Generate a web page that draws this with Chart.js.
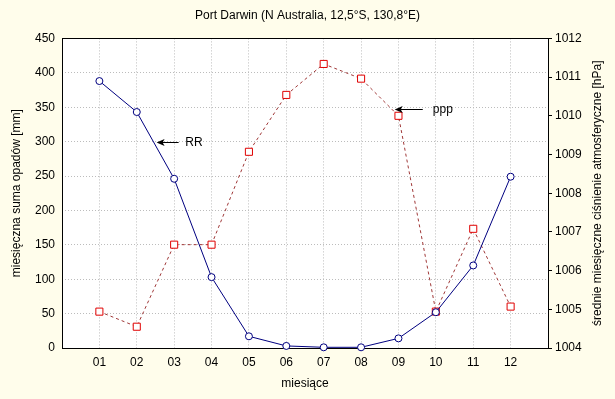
<!DOCTYPE html>
<html lang="pl">
<head>
  <meta charset="UTF-8">
  <title>Port Darwin</title>
  <script src="https://cdn.jsdelivr.net/npm/chart.js"></script>
  <style>
    html, body { margin: 0; padding: 0; background: #fffdeb; }
    #wrap { width: 615px; height: 399px; }
  </style>
</head>
<body>
<div id="wrap"><canvas id="chart" width="615" height="399"></canvas></div>

<script>
  // data
  const months = ['01', '02', '03', '04', '05', '06', '07', '08', '09', '10', '11', '12'];
  const rainfall = [388, 343, 246, 103, 17, 3, 1, 1, 14, 52, 120, 249];
  const pressure = [1004.94, 1004.55, 1006.67, 1006.67, 1009.07, 1010.54, 1011.34, 1010.96, 1010.0, 1004.94, 1007.08, 1005.07];
  const rainTicks = [0, 50, 100, 150, 200, 250, 300, 350, 400, 450];
  const pressureTicks = [1004, 1005, 1006, 1007, 1008, 1009, 1010, 1011, 1012];

  const FONT = '"Liberation Sans", Arial, sans-serif';

  // arrows with labels, placed in data units
  const notes = [
    { text: 'RR', axis: 'yRain', y: 300, tip: 2.53, tail: 3.12, at: 3.3 },
    { text: 'ppp', axis: 'yPress', y: 1010.18, tip: 8.9, tail: 9.65, at: 9.92 }
  ];

  const monthPoints = (vals) => vals.map((v, i) => ({ x: i + 1, y: v }));

  const paintBg = {
    id: 'paintBg',
    beforeDraw(chart) {
      const { ctx, chartArea: a } = chart;
      ctx.save();
      ctx.fillStyle = '#fffdeb';
      ctx.fillRect(0, 0, chart.width, chart.height);
      ctx.fillStyle = '#ffffff';
      ctx.fillRect(a.left, a.top, a.right - a.left, a.bottom - a.top);
      ctx.restore();
    },
    beforeDatasetsDraw(chart) {
      const { ctx, chartArea: a } = chart;
      ctx.save();
      ctx.strokeStyle = '#000000';
      ctx.lineWidth = 1;
      ctx.strokeRect(Math.round(a.left) + 0.5, Math.round(a.top) + 0.5,
        Math.round(a.right - a.left), Math.round(a.bottom - a.top));
      ctx.restore();
    }
  };

  const extras = {
    id: 'extras',
    afterDatasetsDraw(chart) {
      const { ctx, chartArea: a, scales } = chart;
      ctx.save();
      ctx.fillStyle = '#000';
      ctx.strokeStyle = '#000';
      ctx.lineWidth = 1;
      ctx.font = '12px ' + FONT;
      ctx.textBaseline = 'middle';
      notes.forEach(n => {
        const y = Math.round(scales[n.axis].getPixelForValue(n.y)) + 0.5;
        const x0 = scales.x.getPixelForValue(n.tip);
        const x1 = scales.x.getPixelForValue(n.tail);
        ctx.beginPath();
        ctx.moveTo(x0 + 4, y);
        ctx.lineTo(x1, y);
        ctx.stroke();
        ctx.beginPath();
        ctx.moveTo(x0, y);
        ctx.lineTo(x0 + 8, y - 3.5);
        ctx.lineTo(x0 + 6, y);
        ctx.lineTo(x0 + 8, y + 3.5);
        ctx.closePath();
        ctx.fill();
        ctx.textAlign = 'left';
        ctx.fillText(n.text, scales.x.getPixelForValue(n.at), y);
      });
      // right axis title, reading bottom to top like the left one
      ctx.translate(598, (a.top + a.bottom) / 2);
      ctx.rotate(-Math.PI / 2);
      ctx.textAlign = 'center';
      ctx.fillText('średnie miesięczne ciśnienie atmosferyczne [hPa]', 0, 0);
      ctx.restore();
    }
  };

  new Chart(document.getElementById('chart'), {
    type: 'line',
    data: {
      datasets: [
        {
          label: 'RR',
          data: monthPoints(rainfall),
          yAxisID: 'yRain',
          borderColor: '#000080',
          borderWidth: 1,
          pointStyle: 'circle',
          pointRadius: 3.5,
          pointBorderWidth: 1,
          pointBorderColor: '#000080',
          pointBackgroundColor: '#ffffff',
          tension: 0,
          clip: false
        },
        {
          label: 'ppp',
          data: monthPoints(pressure),
          yAxisID: 'yPress',
          borderColor: '#a03838',
          borderWidth: 1,
          borderDash: [3, 3],
          pointStyle: 'rect',
          pointRadius: 5,
          pointBorderWidth: 1,
          pointBorderColor: '#e00000',
          pointBackgroundColor: '#ffffff',
          tension: 0,
          clip: false
        }
      ]
    },
    options: {
      responsive: false,
      animation: false,
      layout: { padding: 0 },
      plugins: {
        legend: { display: false },
        tooltip: { enabled: false },
        title: {
          display: true,
          text: 'Port Darwin (N Australia, 12,5°S, 130,8°E)',
          color: '#000',
          font: { family: FONT, size: 12, weight: 'normal' },
          padding: { top: 8, bottom: 16 }
        }
      },
      scales: {
        x: {
          type: 'linear',
          min: 0,
          max: 13,
          afterFit: s => { s.height = 51; },
          afterBuildTicks: s => { s.ticks = [0, ...months.map((m, i) => i + 1), 13].map(v => ({ value: v })); },
          ticks: {
            color: '#000',
            font: { family: FONT, size: 12 },
            padding: 7,
            autoSkip: false,
            maxRotation: 0,
            callback: v => months[v - 1] || ''
          },
          grid: { color: '#bcbcbc', drawTicks: false },
          border: { display: false, dash: [1, 2] },
          title: {
            display: true,
            text: 'miesiące',
            color: '#000',
            font: { family: FONT, size: 12 },
            padding: { top: 0, bottom: 8 }
          }
        },
        yRain: {
          position: 'left',
          min: rainTicks[0],
          max: rainTicks[rainTicks.length - 1],
          afterFit: s => { s.width = 62; },
          afterBuildTicks: s => { s.ticks = rainTicks.map(v => ({ value: v })); },
          ticks: { color: '#000', font: { family: FONT, size: 12 }, padding: 7, callback: v => String(v) },
          grid: { color: '#bcbcbc', drawTicks: false },
          border: { display: false, dash: [1, 2] },
          title: {
            display: true,
            text: 'miesięczna suma opadów [mm]',
            color: '#000',
            font: { family: FONT, size: 12 },
            padding: { top: 9, bottom: 0 }
          }
        },
        yPress: {
          position: 'right',
          min: pressureTicks[0],
          max: pressureTicks[pressureTicks.length - 1],
          afterFit: s => { s.width = 67; },
          afterBuildTicks: s => { s.ticks = pressureTicks.map(v => ({ value: v })); },
          ticks: { color: '#000', font: { family: FONT, size: 12 }, padding: 3, callback: v => String(v) },
          grid: { drawOnChartArea: false, color: '#000', tickLength: 4 },
          border: { display: false }
        }
      }
    },
    plugins: [paintBg, extras]
  });
</script>
</body>
</html>
